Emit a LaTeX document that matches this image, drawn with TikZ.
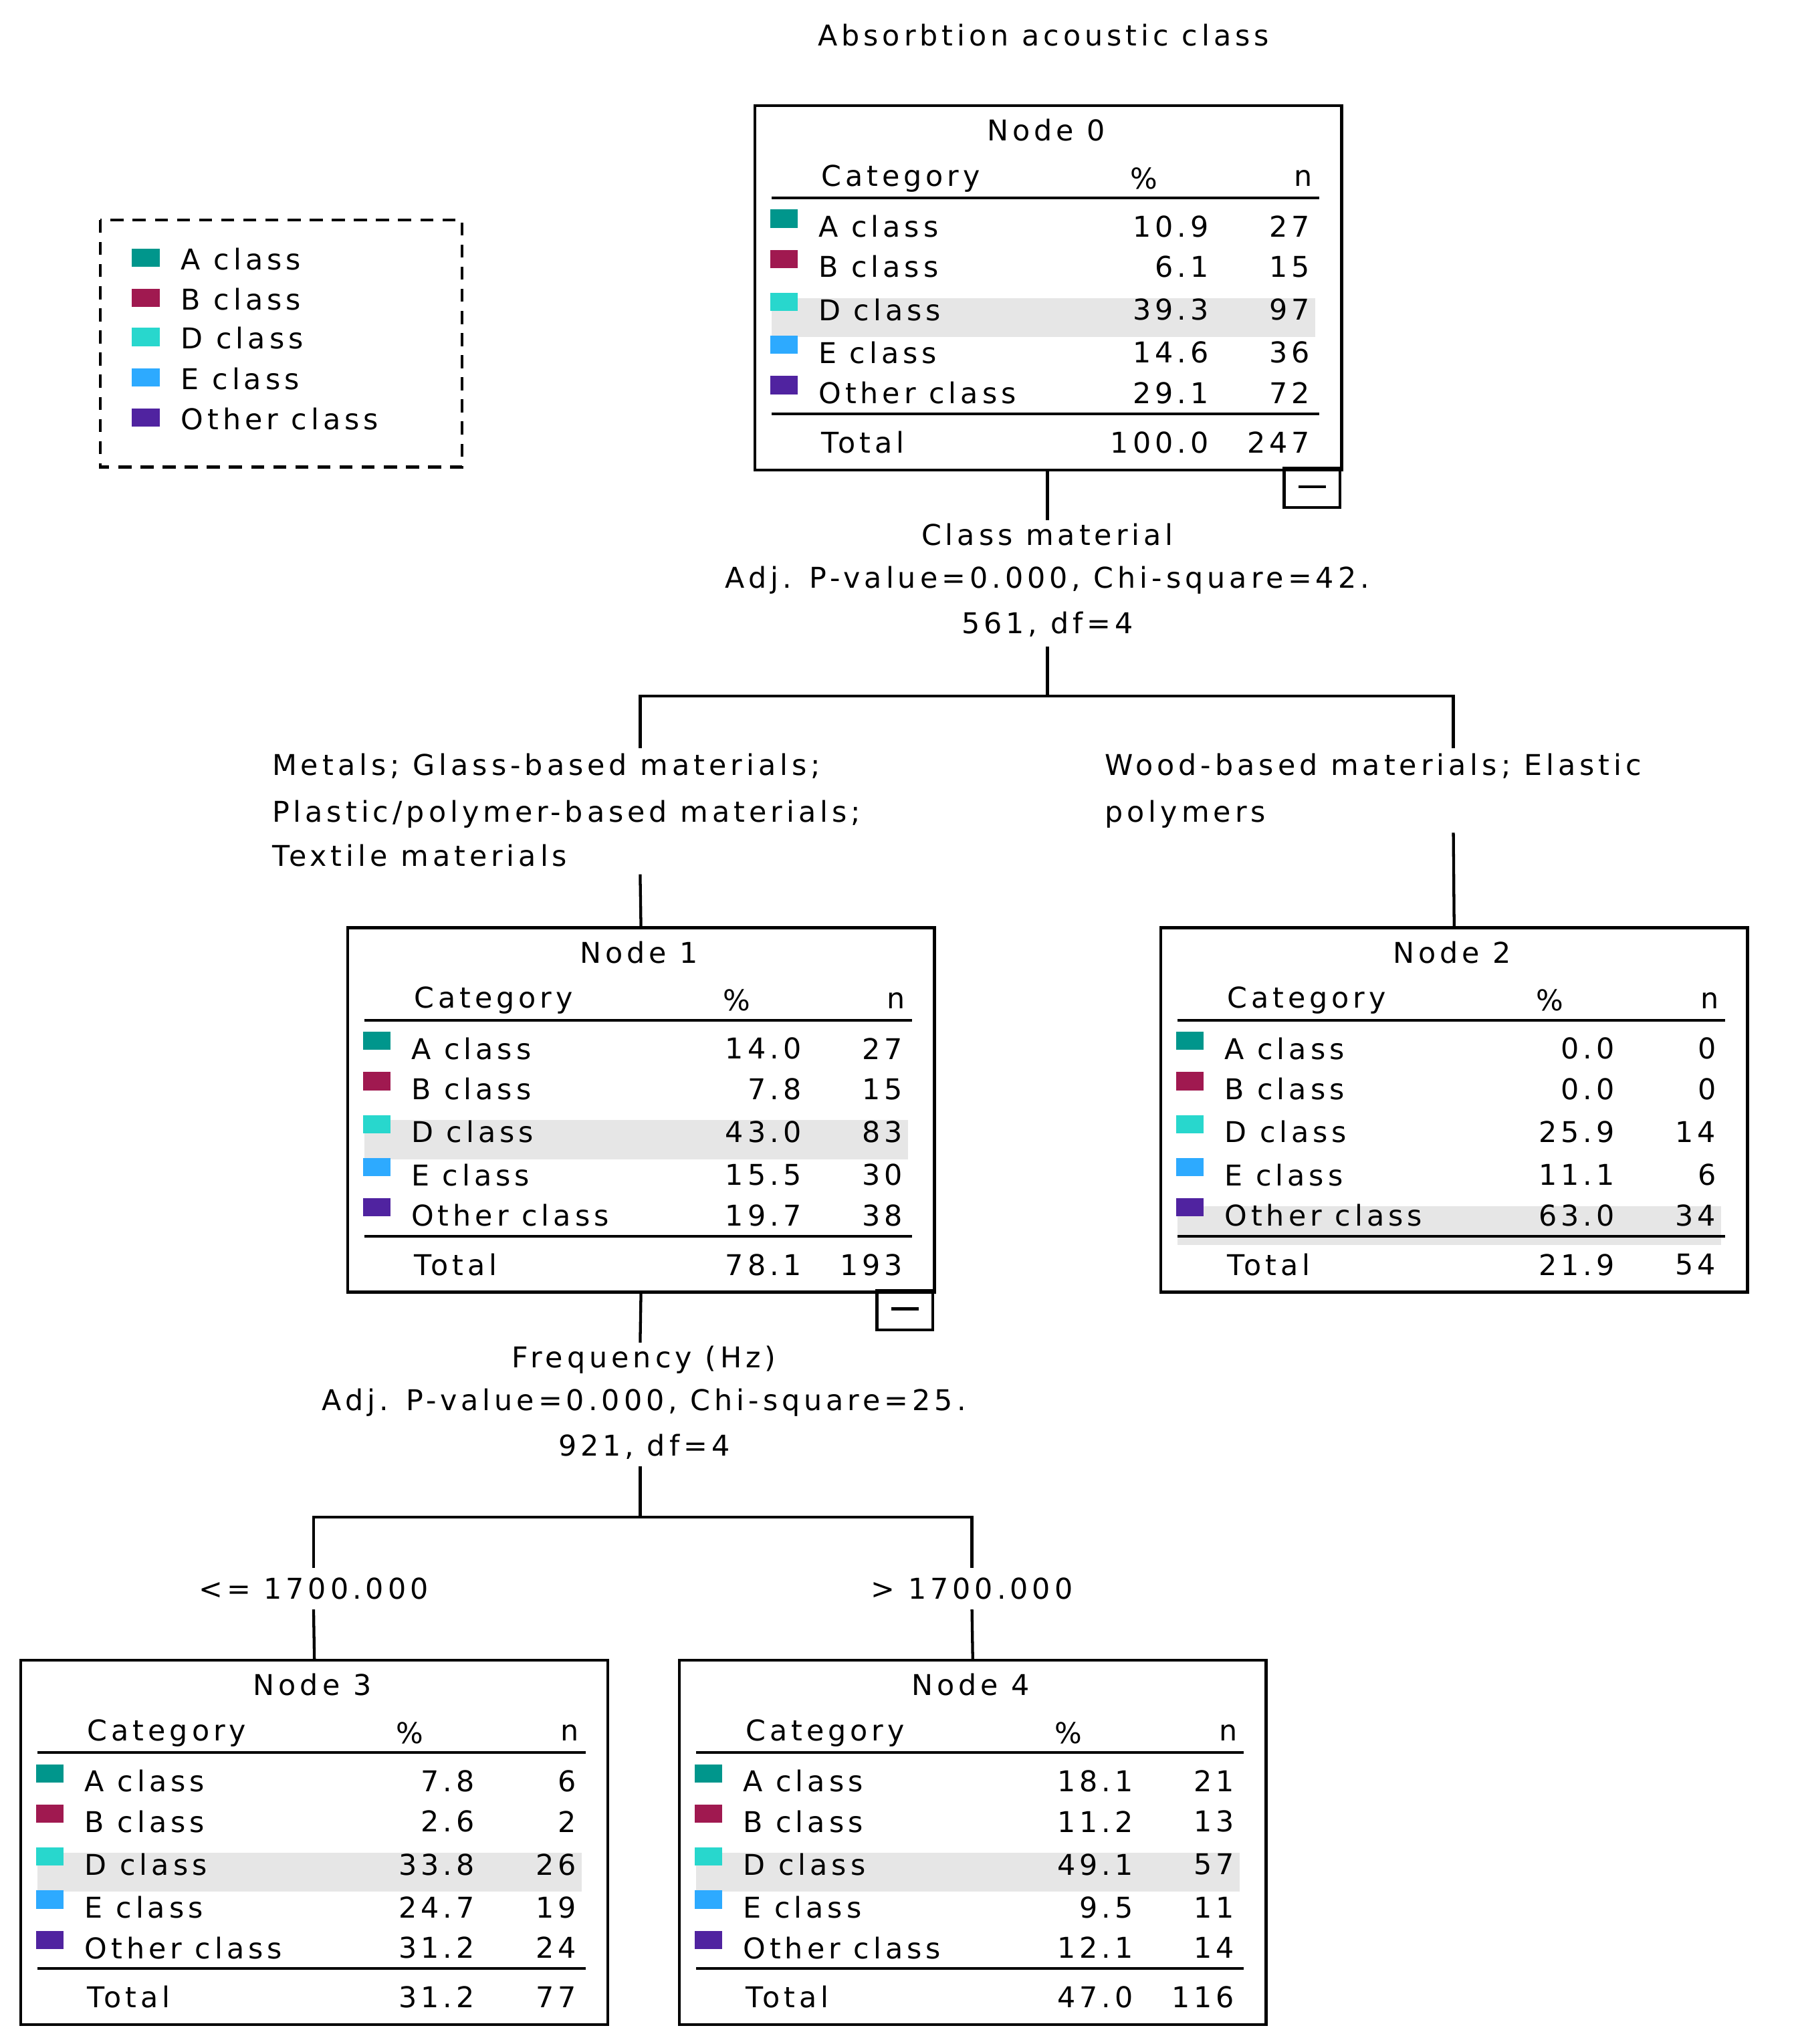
\documentclass[tikz,border=0pt]{standalone}
\usepackage{fontspec}
\setmainfont{DejaVu Sans}[LetterSpace=14]
\definecolor{c1}{RGB}{0,150,140}
\definecolor{c2}{RGB}{160,25,80}
\definecolor{c3}{RGB}{40,215,205}
\definecolor{c4}{RGB}{45,170,255}
\definecolor{c5}{RGB}{80,35,160}
\definecolor{hl}{RGB}{230,230,230}
\tikzset{
 txt/.style={inner sep=0pt,font=\fontsize{22}{26}\selectfont},
 box/.style={draw,line width=2.2pt,minimum width=451pt,minimum height=280pt,anchor=north west,inner sep=0pt},
 ln/.style={line width=2.2pt},
 rule/.style={line width=2pt}
}
\newcommand\cbox[9]{%
 \node[box] (#1) at (#2,#3) {};
 \fill[hl] (#2+14,#3+#9*33+50) rectangle (#2+432,#3+#9*33+80);
 \node[txt] at (#2+225,#3+20) {#4};
 \node[txt,anchor=west] at (#2+52,#3+57) {Category};
 \node[txt] at (#2+300,#3+57) {\%};
 \node[txt,anchor=east] at (#2+430,#3+57) {n};
 \draw[rule] (#2+14,#3+72) -- (#2+435,#3+72);
 \foreach \p/\q [count=\i] in {#5}{
  \pgfmathsetmacro\yo{{94,125,158,191,222}[\i-1]}
  \fill[c\i] (#2+13,#3+\yo-13) rectangle (#2+34,#3+\yo+1);
  \node[txt,anchor=west] at (#2+50,#3+\yo) {\ifcase\i\or A class\or B class\or D class\or E class\or Other class\fi};
  \node[txt,anchor=east] at (#2+350,#3+\yo) {\p};
  \node[txt,anchor=east] at (#2+428,#3+\yo) {\q};
 }
 \draw[rule] (#2+14,#3+238) -- (#2+435,#3+238);
 \node[txt,anchor=west] at (#2+52,#3+260) {Total};
 \node[txt,anchor=east] at (#2+350,#3+260) {#6};
 \node[txt,anchor=east] at (#2+428,#3+260) {#7};
 \ifnum#8=1 \draw[ln] (#2+408,#3+280) rectangle (#2+451,#3+310); \draw[ln] (#2+419,#3+294)--(#2+440,#3+294);\fi
}
\begin{document}
\begin{tikzpicture}[x=1pt,y=-1pt]
\useasboundingbox (0,0) rectangle (1380,1571);
\node[txt] (title) at (802,27) {Absorbtion acoustic class};
% legend
\draw[line width=2.2pt,dash pattern=on 10pt off 7pt] (77,169) rectangle (355,359);
\foreach \lab [count=\i] in {A class,B class,D class,E class,Other class}{
 \pgfmathsetmacro\yo{{199,230,260,291,322}[\i-1]}
 \fill[c\i] (101,\yo-8) rectangle (123,\yo+6);
 \node[txt,anchor=west] (leg\i) at (139,\yo) {\lab};
}
\cbox{n0}{579}{80}{Node 0}{10.9/27,6.1/15,39.3/97,14.6/36,29.1/72}{100.0}{247}{1}{3}
\cbox{n1}{266}{712}{Node 1}{14.0/27,7.8/15,43.0/83,15.5/30,19.7/38}{78.1}{193}{1}{3}
\cbox{n2}{891}{712}{Node 2}{0.0/0,0.0/0,25.9/14,11.1/6,63.0/34}{21.9}{54}{0}{5}
\cbox{n3}{15}{1275}{Node 3}{7.8/6,2.6/2,33.8/26,24.7/19,31.2/24}{31.2}{77}{0}{3}
\cbox{n4}{521}{1275}{Node 4}{18.1/21,11.2/13,49.1/57,9.5/11,12.1/14}{47.0}{116}{0}{3}
% split 1
\node[txt,align=center] (s1) at (805,446) {Class material\\[7pt]Adj. P-value=0.000, Chi-square=42.\\[9pt]561, df=4};
\draw[ln] (n0.south -| 805,0) -- (805,400);
\coordinate (j1) at (805,535);
\draw[ln] (805,497) -- (j1);
\draw[ln] (492,575) -- (492,535) -- (1117,535) -- (1117,575);
\node[txt,anchor=north west,align=left] (l1) at (209,579) {Metals; Glass-based materials;\\[10pt]Plastic/polymer-based materials;\\[8pt]Textile materials};
\node[txt,anchor=north west,align=left] (r1) at (849,579) {Wood-based materials; Elastic\\[10pt]polymers};
\draw[ln] (492,672) -- (n1.north);
\draw[ln] (1117,640) -- (n2.north);
% split 2
\node[txt,align=center] (s2) at (495,1078) {Frequency (Hz)\\[7pt]Adj. P-value=0.000, Chi-square=25.\\[9pt]921, df=4};
\draw[ln] (n1.south) -- (492,1032);
\draw[ln] (492,1127) -- (492,1166);
\draw[ln] (241,1205) -- (241,1166) -- (747,1166) -- (747,1205);
\node[txt] (l2) at (241,1221) {<= 1700.000};
\node[txt] (r2) at (747,1221) {> 1700.000};
\draw[ln] (241,1237) -- (n3.north);
\draw[ln] (747,1237) -- (n4.north);
\end{tikzpicture}
\end{document}
